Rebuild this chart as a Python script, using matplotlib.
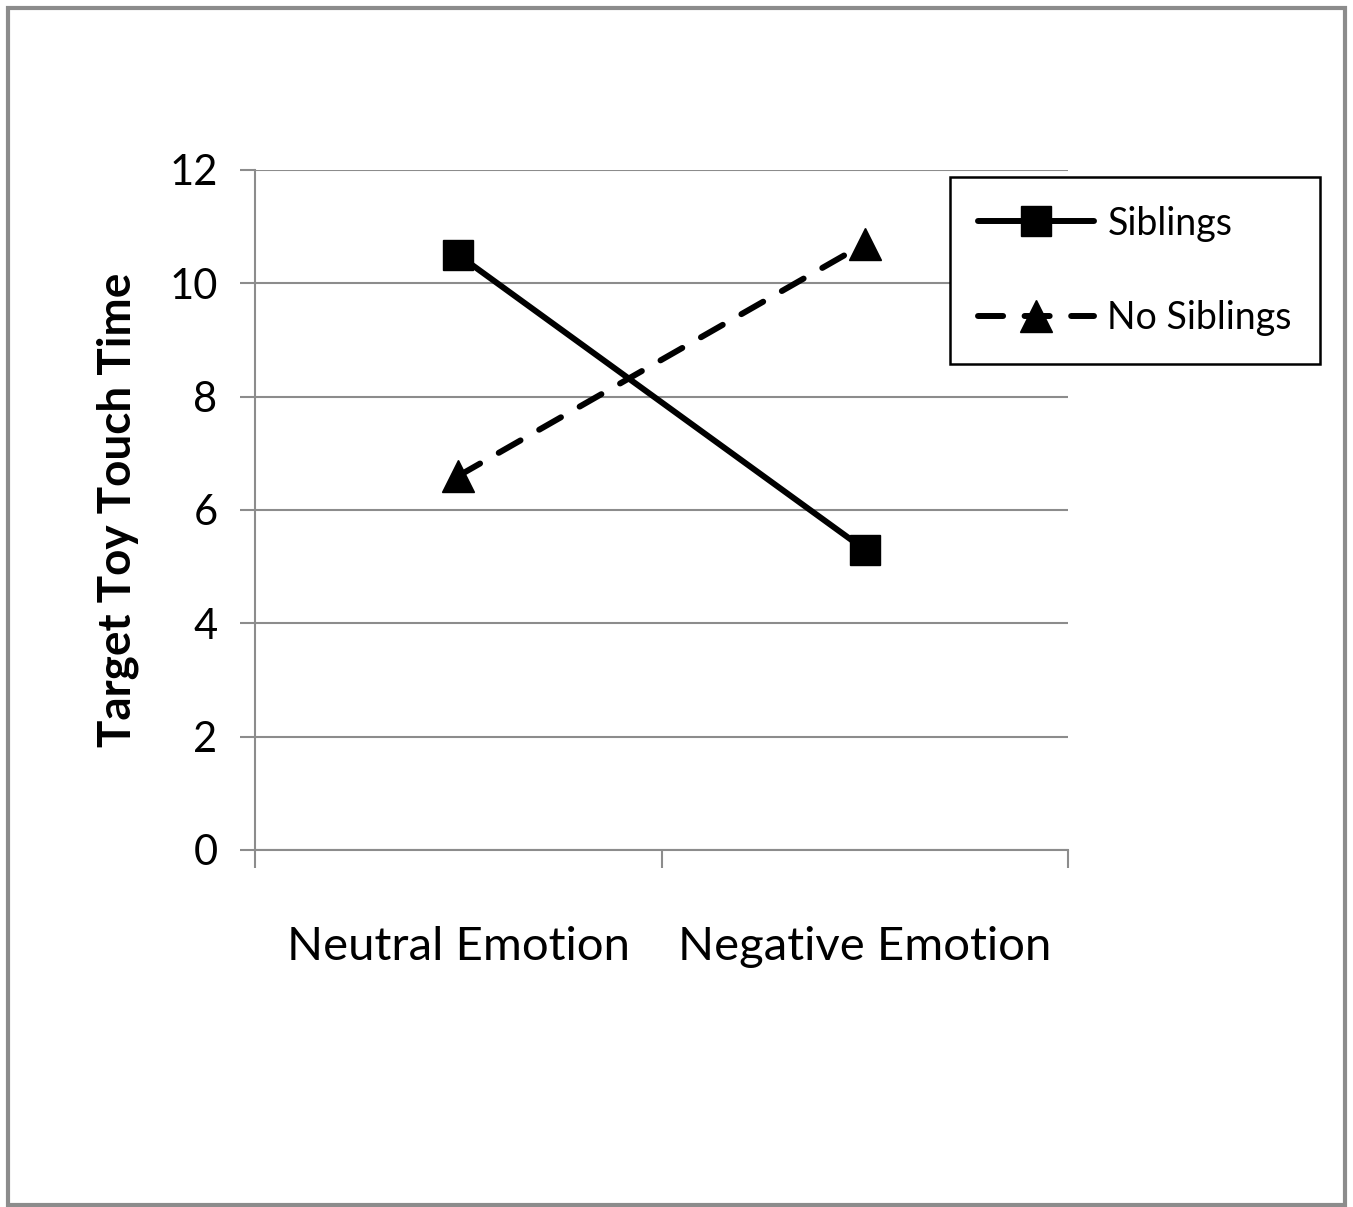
import matplotlib.pyplot as plt
from matplotlib.patches import Rectangle

# data
categories = ['Neutral Emotion', 'Negative Emotion']
siblings = [10.5, 5.3]
no_siblings = [6.6, 10.7]
yticks = [0, 2, 4, 6, 8, 10, 12]

plt.rcParams['font.family'] = ['Lato', 'DejaVu Sans']

fig = plt.figure(figsize=(13.53, 12.07), dpi=100)

# grey frame round the whole picture
fig.patches.append(Rectangle((0.006, 0.002), 0.988, 0.991, transform=fig.transFigure,
                             fill=False, edgecolor='#8c8c8c', linewidth=3))

ax = fig.add_axes([0.1885, 0.2958, 0.6009, 0.5634])
x = list(range(len(categories)))

ax.plot(x, siblings, color='black', linewidth=4.3, marker='s', markersize=21,
        solid_capstyle='round', label='Siblings')
ax.plot(x, no_siblings, color='black', linewidth=4.3, linestyle=(0, (4.2, 3.6)),
        dash_capstyle='round', marker='^', markersize=23, label='No Siblings')

ax.set_xlim(-0.5, len(categories) - 0.5)
ax.set_ylim(0, 12)
ax.set_yticks(yticks)
ax.yaxis.grid(True, color='#8c8c8c', linewidth=1.5)
ax.set_axisbelow(True)

ax.set_xticks(x)
ax.set_xticklabels(categories, fontsize=34)
ax.set_xticks([-0.5, 0.5, 1.5], minor=True)
ax.tick_params(axis='x', which='major', length=0, pad=55)
ax.tick_params(axis='x', which='minor', length=13, width=1.5, color='#8c8c8c')
ax.tick_params(axis='y', length=11, width=1.5, color='#8c8c8c', labelsize=30, pad=16)

for s in ['top', 'right']:
    ax.spines[s].set_visible(False)
for s in ['left', 'bottom']:
    ax.spines[s].set_color('#8c8c8c')
    ax.spines[s].set_linewidth(1.5)

ax.set_ylabel('Target Toy Touch Time', fontsize=33, fontweight='bold', labelpad=22)

leg = fig.legend(loc='upper left', bbox_to_anchor=(0.702, 0.853), fontsize=27,
                 frameon=True, fancybox=False, edgecolor='black', framealpha=1,
                 handlelength=3.1, labelspacing=1.55, borderpad=0.75,
                 handletextpad=0.35, borderaxespad=0)
leg.get_frame().set_linewidth(1.8)

fig.savefig('out.png', dpi=100)
